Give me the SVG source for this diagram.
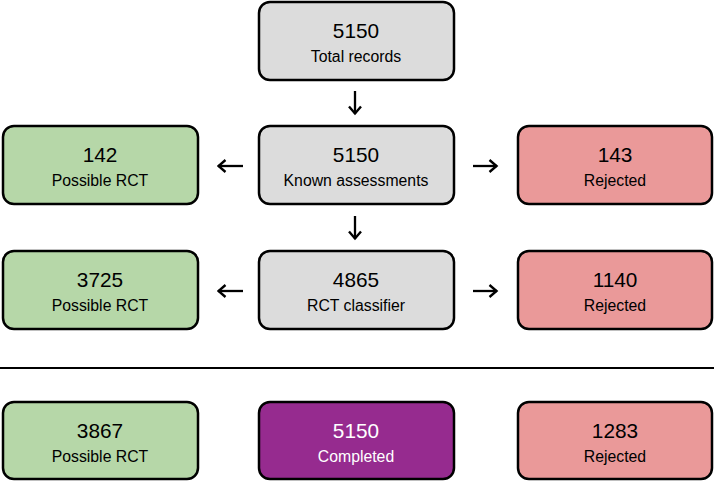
<svg xmlns="http://www.w3.org/2000/svg" width="714" height="482" viewBox="0 0 714 482">
<defs>
<style>
.box{stroke:#000;stroke-width:2.5}
.grey{fill:#dcdcdc}
.green{fill:#b6d7a8}
.red{fill:#ea9999}
.purple{fill:#962b8f}
.num{font-family:"Liberation Sans",Arial,sans-serif;font-size:20.8px;text-anchor:middle;fill:#000}
.lbl{font-family:"Liberation Sans",Arial,sans-serif;font-size:15.8px;text-anchor:middle;fill:#000}
.white{fill:#fff}
.arr{stroke:#000;stroke-width:2.3;fill:none}
</style>
<marker id="ah" viewBox="0 0 14 14" refX="12.5" refY="7" markerWidth="14" markerHeight="14" markerUnits="userSpaceOnUse" orient="auto">
<path d="M5,1 L12,7 L5,13" fill="none" stroke="#000" stroke-width="2.4"/>
</marker>
</defs>
<g id="n-total">
<rect class="box grey" x="259" y="2" width="195" height="78" rx="11"/>
<text class="num" x="356" y="38">5150</text>
<text class="lbl" x="356" y="62">Total records</text>
</g>
<g id="n-known">
<rect class="box grey" x="259" y="126" width="195" height="78" rx="11"/>
<text class="num" x="356" y="162">5150</text>
<text class="lbl" x="356" y="186">Known assessments</text>
</g>
<g id="n-known-rct">
<rect class="box green" x="3" y="126" width="195" height="78" rx="11"/>
<text class="num" x="100" y="162">142</text>
<text class="lbl" x="100" y="186">Possible RCT</text>
</g>
<g id="n-known-rej">
<rect class="box red" x="518" y="126" width="194" height="78" rx="11"/>
<text class="num" x="615" y="162">143</text>
<text class="lbl" x="615" y="186">Rejected</text>
</g>
<g id="n-class">
<rect class="box grey" x="259" y="251" width="195" height="78" rx="11"/>
<text class="num" x="356" y="287">4865</text>
<text class="lbl" x="356" y="311">RCT classifier</text>
</g>
<g id="n-class-rct">
<rect class="box green" x="3" y="251" width="195" height="78" rx="11"/>
<text class="num" x="100" y="287">3725</text>
<text class="lbl" x="100" y="311">Possible RCT</text>
</g>
<g id="n-class-rej">
<rect class="box red" x="518" y="251" width="194" height="78" rx="11"/>
<text class="num" x="615" y="287">1140</text>
<text class="lbl" x="615" y="311">Rejected</text>
</g>
<g id="n-sum-rct">
<rect class="box green" x="3" y="402" width="195" height="77" rx="11"/>
<text class="num" x="100" y="438">3867</text>
<text class="lbl" x="100" y="462">Possible RCT</text>
</g>
<g id="n-sum-done">
<rect class="box purple" x="259" y="402" width="195" height="77" rx="11"/>
<text class="num white" x="356" y="438">5150</text>
<text class="lbl white" x="356" y="462">Completed</text>
</g>
<g id="n-sum-rej">
<rect class="box red" x="518" y="402" width="194" height="77" rx="11"/>
<text class="num" x="615" y="438">1283</text>
<text class="lbl" x="615" y="462">Rejected</text>
</g>
<g id="connectors">
<line class="arr" x1="355" y1="91" x2="355" y2="114" marker-end="url(#ah)"/>
<line class="arr" x1="355" y1="216" x2="355" y2="239" marker-end="url(#ah)"/>
<line class="arr" x1="243" y1="166" x2="218" y2="166" marker-end="url(#ah)"/>
<line class="arr" x1="473" y1="166" x2="497" y2="166" marker-end="url(#ah)"/>
<line class="arr" x1="243" y1="291" x2="218" y2="291" marker-end="url(#ah)"/>
<line class="arr" x1="473" y1="291" x2="497" y2="291" marker-end="url(#ah)"/>
<line x1="0" y1="368" x2="714" y2="368" stroke="#000" stroke-width="2"/>
</g>
</svg>
